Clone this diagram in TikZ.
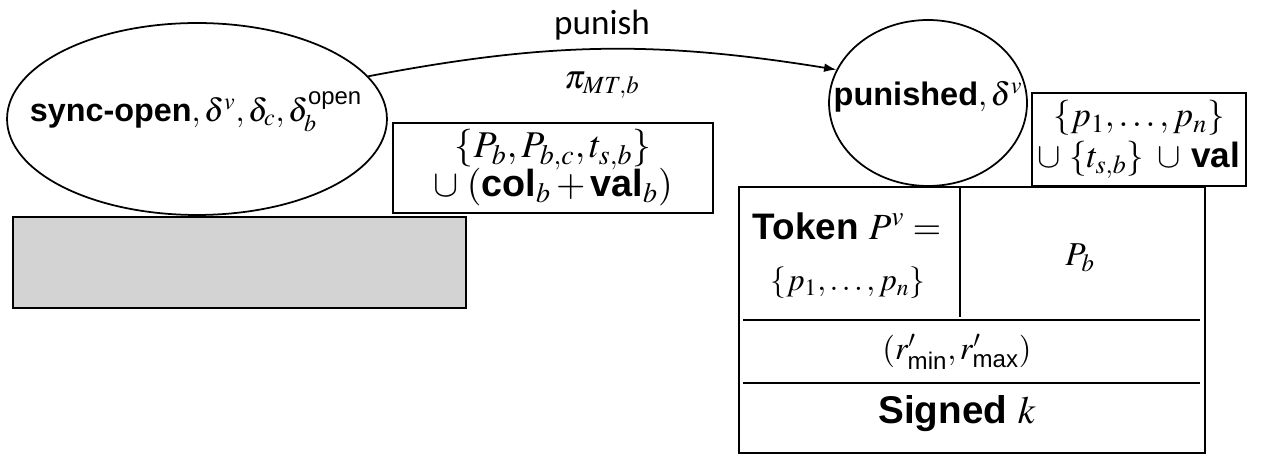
\documentclass[tikz,border=0pt]{standalone}
\usepackage{amsmath}
\usepackage{mathptmx}
\usepackage{fontspec}
\setmainfont{Liberation Sans}
\newfontfamily\arcfont{Carlito}
\usetikzlibrary{shapes.geometric,arrows.meta,positioning}
\definecolor{boxgray}{RGB}{211,211,211}

\tikzset{
  state/.style={draw, ellipse, line width=1pt, inner sep=0pt},
  stbox/.style={draw, rectangle, line width=1pt, inner sep=0pt, align=center},
}

\begin{document}
\begin{tikzpicture}[x=0.02cm,y=-0.02cm,font=\fontsize{19}{23}\selectfont]
  \useasboundingbox (0,0) rectangle (1281,455);
  % left state
  \node[state, minimum width=7.6cm, minimum height=3.84cm] (syncopen) at (197,119) {};
  \node[font=\fontsize{18.4}{22}\selectfont] (synclabel) at (196,112) {\textbf{sync-open}$,\delta^v,\delta_c,\delta_b^{\text{open}}$};
  \node[stbox, minimum width=6.4cm, minimum height=1.8cm, font=\fontsize{21.5}{25}\selectfont] (opendata) at (553,168)
    {$\{P_b, P_{b,c}, t_{s,b}\}$\\[-3pt] $\cup\;(\textbf{col}_b+\textbf{val}_b)$};
  \node[stbox, fill=boxgray, minimum width=9.06cm, minimum height=1.82cm] (openblock) at (239.5,262.5) {};
  % right state
  \node[state, minimum width=3.96cm, minimum height=3.32cm] (punished) at (928,103) {};
  \node (punlabel) at (928,97) {\fontsize{18.5}{22}\selectfont\textbf{punished}$,\delta^v$};
  \node[stbox, minimum width=4.28cm, minimum height=1.86cm, font=\fontsize{20}{23}\selectfont] (pundata) at (1139,139.5)
    {$\{p_1,\ldots,p_n\}$\\[0pt] $\cup\;\{t_{s,b}\}\;\cup{}$\,\textbf{val}};
  % transition
  \draw[line width=1pt, -{Latex[length=7pt,width=5pt]}] (syncopen.14) to[bend left=10]
    node[midway, above=1pt]{\fontsize{20}{24}\selectfont\arcfont punish}
    node[midway, below=9pt]{$\pi_{MT,b}$} (punished.160);
  % token table
  \node[stbox, minimum width=9.32cm, minimum height=5.32cm] (token) at (972,320) {};
  \coordinate (vtop) at (960,187);
  \coordinate (vbot) at (960,317);
  \draw[line width=1pt] (vtop) -- (vbot);
  \draw[line width=1pt] (743,320) -- (1200,320);
  \draw[line width=1pt] (743,383) -- (1200,383);
  \node[font=\fontsize{21}{25}\selectfont] (tokenlbl) at (847,226) {\textbf{Token} $P^v=$};
  \node[font=\fontsize{18}{22}\selectfont] (tokenset) at (848,283) {$\{p_1,\ldots,p_n\}$};
  \node (pbcell) at (1080,258) {$P_b$};
  \node[font=\fontsize{18.5}{22}\selectfont] (rrange) at (957,352) {$(r'_{\text{min}},r'_{\text{max}})$};
  \node[font=\fontsize{22}{26}\selectfont] (signed) at (957,414) {\textbf{Signed} $k$};
\end{tikzpicture}
\end{document}
